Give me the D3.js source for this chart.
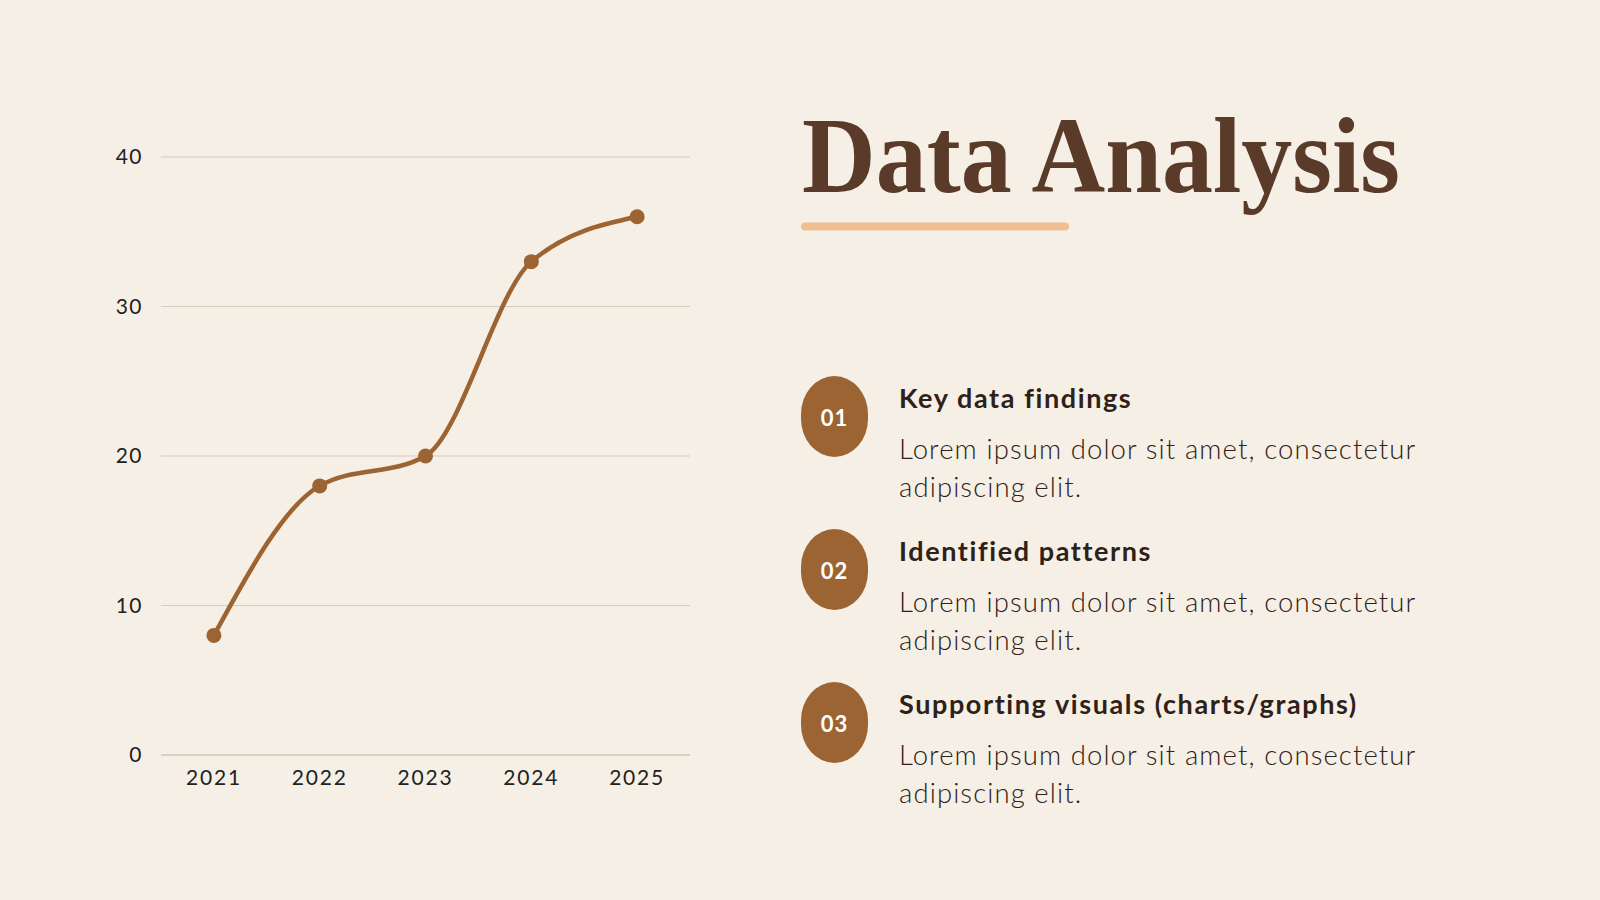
<!DOCTYPE html>
<html>
<head>
<meta charset="utf-8">
<script src="https://cdn.jsdelivr.net/npm/d3@7"></script>
<style>
  html, body { margin: 0; padding: 0; background: #f6efe5; }
  svg { display: block; }
</style>
</head>
<body>
<svg id="slide" width="1600" height="900"></svg>
<script>
// chart data
const years = ['2021', '2022', '2023', '2024', '2025'];
const values = [8, 18, 20, 33, 36];
const yTicks = [0, 10, 20, 30, 40];

// right-hand list
const itemNums = ['01', '02', '03'];
const itemTitles = ['Key data findings', 'Identified patterns', 'Supporting visuals (charts/graphs)'];
const itemBodies = [
  ['Lorem ipsum dolor sit amet, consectetur', 'adipiscing elit.'],
  ['Lorem ipsum dolor sit amet, consectetur', 'adipiscing elit.'],
  ['Lorem ipsum dolor sit amet, consectetur', 'adipiscing elit.']
];

const BROWN = '#9c6433';
const DARK = '#2e2118';
const SANS = 'Lato, "Open Sans", sans-serif';

const svg = d3.select('#slide');
svg.append('rect').attr('width', 1600).attr('height', 900).attr('fill', '#f6efe5');

// --- chart ---
const x = d3.scaleBand().domain(years).range([161, 690]);
const y = d3.scaleLinear().domain([0, 40]).range([755, 157]);

const chart = svg.append('g');

chart.append('g')
  .selectAll('line')
  .data(yTicks)
  .join('line')
  .attr('x1', 161).attr('x2', 690)
  .attr('y1', d => y(d)).attr('y2', d => y(d))
  .attr('stroke', d => d === 0 ? '#b9b1a6' : '#d3ccc1')
  .attr('stroke-width', 1.2);

chart.append('g')
  .selectAll('text')
  .data(yTicks)
  .join('text')
  .attr('x', 143).attr('y', d => y(d))
  .attr('dy', '0.35em')
  .attr('text-anchor', 'end')
  .attr('font-family', SANS)
  .attr('font-size', 21)
  .attr('letter-spacing', 1.5)
  .attr('fill', '#222')
  .text(d => d);

chart.append('g')
  .selectAll('text')
  .data(years)
  .join('text')
  .attr('x', d => x(d) + x.bandwidth() / 2)
  .attr('y', 785)
  .attr('text-anchor', 'middle')
  .attr('font-family', SANS)
  .attr('font-size', 21)
  .attr('letter-spacing', 1.8)
  .attr('fill', '#222')
  .text(d => d);

const pts = years.map((yr, i) => ({ yr, v: values[i] }));

const line = d3.line()
  .x(d => x(d.yr) + x.bandwidth() / 2)
  .y(d => y(d.v))
  .curve(d3.curveMonotoneX);

chart.append('path')
  .datum(pts)
  .attr('d', line)
  .attr('fill', 'none')
  .attr('stroke', BROWN)
  .attr('stroke-width', 4.5)
  .attr('stroke-linecap', 'round');

chart.append('g')
  .selectAll('circle')
  .data(pts)
  .join('circle')
  .attr('cx', d => x(d.yr) + x.bandwidth() / 2)
  .attr('cy', d => y(d.v))
  .attr('r', 7.5)
  .attr('fill', BROWN);

// --- title ---
svg.append('text')
  .attr('x', 802).attr('y', 192)
  .attr('font-family', '"Liberation Serif", "DejaVu Serif", serif')
  .attr('font-size', 108)
  .attr('font-weight', 'bold')
  .attr('fill', '#5a3a28')
  .attr('textLength', 598)
  .attr('lengthAdjust', 'spacingAndGlyphs')
  .text('Data Analysis');

svg.append('rect')
  .attr('x', 801).attr('y', 222.5)
  .attr('width', 268).attr('height', 8)
  .attr('rx', 4)
  .attr('fill', '#f0bf94');

// --- list ---
const items = svg.append('g')
  .selectAll('g')
  .data(itemNums)
  .join('g')
  .attr('transform', (d, i) => `translate(0, ${i * 153})`);

items.append('rect')
  .attr('x', 801).attr('y', 376)
  .attr('width', 67).attr('height', 81)
  .attr('rx', 33.5).attr('ry', 38)
  .attr('fill', BROWN);

items.append('text')
  .attr('x', 834.5).attr('y', 418)
  .attr('dy', '0.35em')
  .attr('text-anchor', 'middle')
  .attr('font-family', SANS)
  .attr('font-weight', 'bold')
  .attr('font-size', 22)
  .attr('letter-spacing', 1)
  .attr('fill', '#ffffff')
  .text(d => d);

items.append('text')
  .attr('x', 899).attr('y', 408)
  .attr('font-family', SANS)
  .attr('font-weight', 'bold')
  .attr('font-size', 27)
  .attr('letter-spacing', 1.6)
  .attr('fill', DARK)
  .text((d, i) => itemTitles[i]);

items.each(function (d, i) {
  d3.select(this).append('g')
    .selectAll('text')
    .data(itemBodies[i])
    .join('text')
    .attr('x', 899)
    .attr('y', (t, j) => 459 + j * 38)
    .attr('font-family', SANS)
    .attr('font-weight', 300)
    .attr('font-size', 27.5)
    .attr('letter-spacing', 1.1)
    .attr('fill', '#2e2118')
    .text(t => t);
});
</script>
</body>
</html>
